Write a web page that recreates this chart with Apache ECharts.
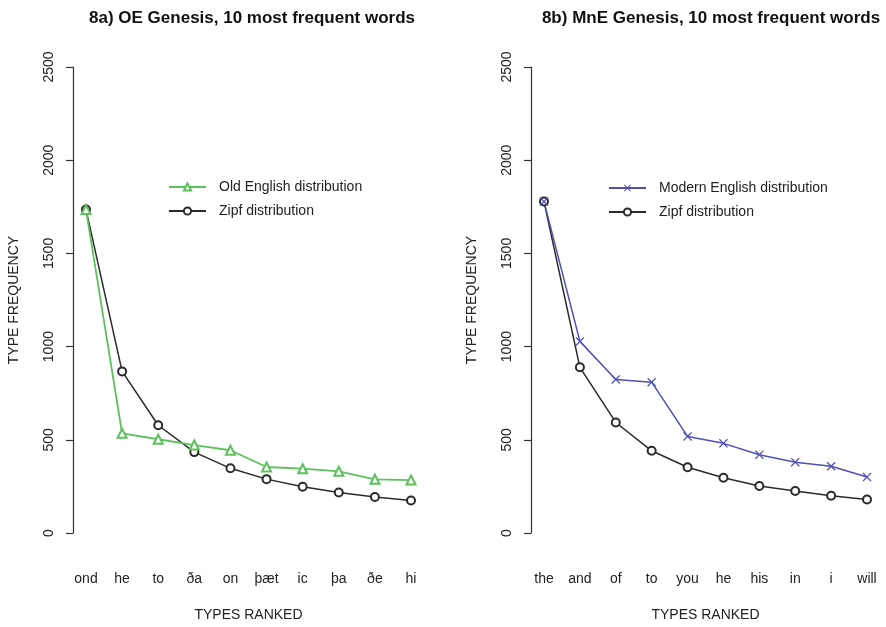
<!DOCTYPE html>
<html>
<head>
	<meta charset="UTF-8">
	<title>Genesis word frequencies</title>
	<style type="text/css">
		html, body {
			margin: 0;
			padding: 0;
			background: #fff;
		}
		#chart {
			width: 886px;
			height: 627px;
		}
	</style>
</head>
<body>
	<div id="chart"></div>

	<script type="text/javascript" src="https://cdn.jsdelivr.net/npm/echarts@6/dist/echarts.min.js"></script>
	<script type="text/javascript">
		// data
		var oeWords = ['ond', 'he', 'to', 'ða', 'on', 'þæt', 'ic', 'þa', 'ðe', 'hi'];
		var oeFreq = [1735, 535, 503, 472, 444, 354, 345, 331, 288, 284];
		var oeZipf = [1735, 867, 578, 434, 347, 289, 248, 217, 193, 174];

		var mneWords = ['the', 'and', 'of', 'to', 'you', 'he', 'his', 'in', 'i', 'will'];
		var mneFreq = [1778, 1028, 824, 809, 518, 481, 420, 380, 358, 300];
		var mneZipf = [1778, 889, 593, 441, 353, 296, 252, 225, 200, 180];

		var yTicks = [0, 500, 1000, 1500, 2000, 2500];

		var green = '#5cc15c';
		var blue = '#4f4fb5';
		var black = '#2a2a2a';
		var font = 'Liberation Sans, Arial, sans-serif';
		var crossPath = 'path://M0,1L1,0L5,4L9,0L10,1L6,5L10,9L9,10L5,6L1,10L0,9L4,5Z';

		var chart = echarts.init(document.getElementById('chart'));

		function xAxis(idx, words) {
			return {
				type: 'category',
				gridIndex: idx,
				data: words,
				boundaryGap: false,
				axisLine: { show: false },
				axisTick: { show: false },
				axisLabel: { margin: 39, fontSize: 14, color: '#222', fontFamily: font },
				name: 'TYPES RANKED',
				nameLocation: 'middle',
				nameGap: 75,
				nameTextStyle: { fontSize: 14, color: '#222', fontFamily: font },
				splitLine: { show: false }
			};
		}

		function yAxis(idx) {
			return {
				type: 'value',
				gridIndex: idx,
				min: yTicks[0],
				max: yTicks[yTicks.length - 1],
				interval: 500,
				offset: 13,
				axisLine: { show: true, lineStyle: { color: '#333', width: 1.2 } },
				axisTick: { show: true, length: 7, lineStyle: { color: '#333', width: 1.2 } },
				axisLabel: {
					rotate: 90, margin: 17, fontSize: 14, color: '#222', fontFamily: font,
					formatter: function (v) { return String(v); }
				},
				name: 'TYPE FREQUENCY',
				nameLocation: 'middle',
				nameGap: 52,
				nameTextStyle: { fontSize: 14, color: '#222', fontFamily: font },
				splitLine: { show: false }
			};
		}

		var option = {
			backgroundColor: '#fff',
			animation: false,
			title: [
				{
					text: '8a) OE Genesis, 10 most frequent words',
					left: 247, top: 5, textAlign: 'center',
					textStyle: { fontSize: 17, fontWeight: 'bold', color: '#111', fontFamily: font }
				},
				{
					text: '8b) MnE Genesis, 10 most frequent words',
					left: 706, top: 5, textAlign: 'center',
					textStyle: { fontSize: 17, fontWeight: 'bold', color: '#111', fontFamily: font }
				}
			],
			legend: [
				{
					data: ['Old English distribution', 'Zipf distribution'],
					orient: 'vertical',
					left: 163, top: 175,
					itemWidth: 37, itemHeight: 9, itemGap: 10,
					textStyle: { fontSize: 14, color: '#222', fontFamily: font, padding: [0, 0, 0, 8] }
				},
				{
					data: ['Modern English distribution', 'Zipf distribution '],
					orient: 'vertical',
					left: 603, top: 176,
					itemWidth: 37, itemHeight: 9, itemGap: 10,
					textStyle: { fontSize: 14, color: '#222', fontFamily: font, padding: [0, 0, 0, 8] }
				}
			],
			grid: [
				{ left: 86, width: 325, top: 67, bottom: 94 },
				{ left: 544, width: 323, top: 67, bottom: 94 }
			],
			xAxis: [xAxis(0, oeWords), xAxis(1, mneWords)],
			yAxis: [yAxis(0), yAxis(1)],
			series: [
				{
					name: 'Zipf distribution',
					type: 'line',
					xAxisIndex: 0, yAxisIndex: 0,
					data: oeZipf,
					symbol: 'emptyCircle', symbolSize: 8,
					color: black,
					lineStyle: { color: black, width: 1.5 },
					itemStyle: { color: black, borderWidth: 1.5 }
				},
				{
					name: 'Old English distribution',
					type: 'line',
					xAxisIndex: 0, yAxisIndex: 0,
					data: oeFreq,
					symbol: 'emptyTriangle', symbolSize: 9,
					color: green,
					lineStyle: { color: green, width: 1.8 },
					itemStyle: { color: green, borderWidth: 1.5 }
				},
				{
					name: 'Zipf distribution ',
					type: 'line',
					xAxisIndex: 1, yAxisIndex: 1,
					data: mneZipf,
					symbol: 'emptyCircle', symbolSize: 8,
					color: black,
					lineStyle: { color: black, width: 1.5 },
					itemStyle: { color: black, borderWidth: 1.5 }
				},
				{
					name: 'Modern English distribution',
					type: 'line',
					xAxisIndex: 1, yAxisIndex: 1,
					data: mneFreq,
					symbol: crossPath, symbolSize: 9,
					color: blue,
					lineStyle: { color: blue, width: 1.5 },
					itemStyle: { color: blue }
				}
			]
		};

		chart.setOption(option);
	</script>
</body>
</html>
